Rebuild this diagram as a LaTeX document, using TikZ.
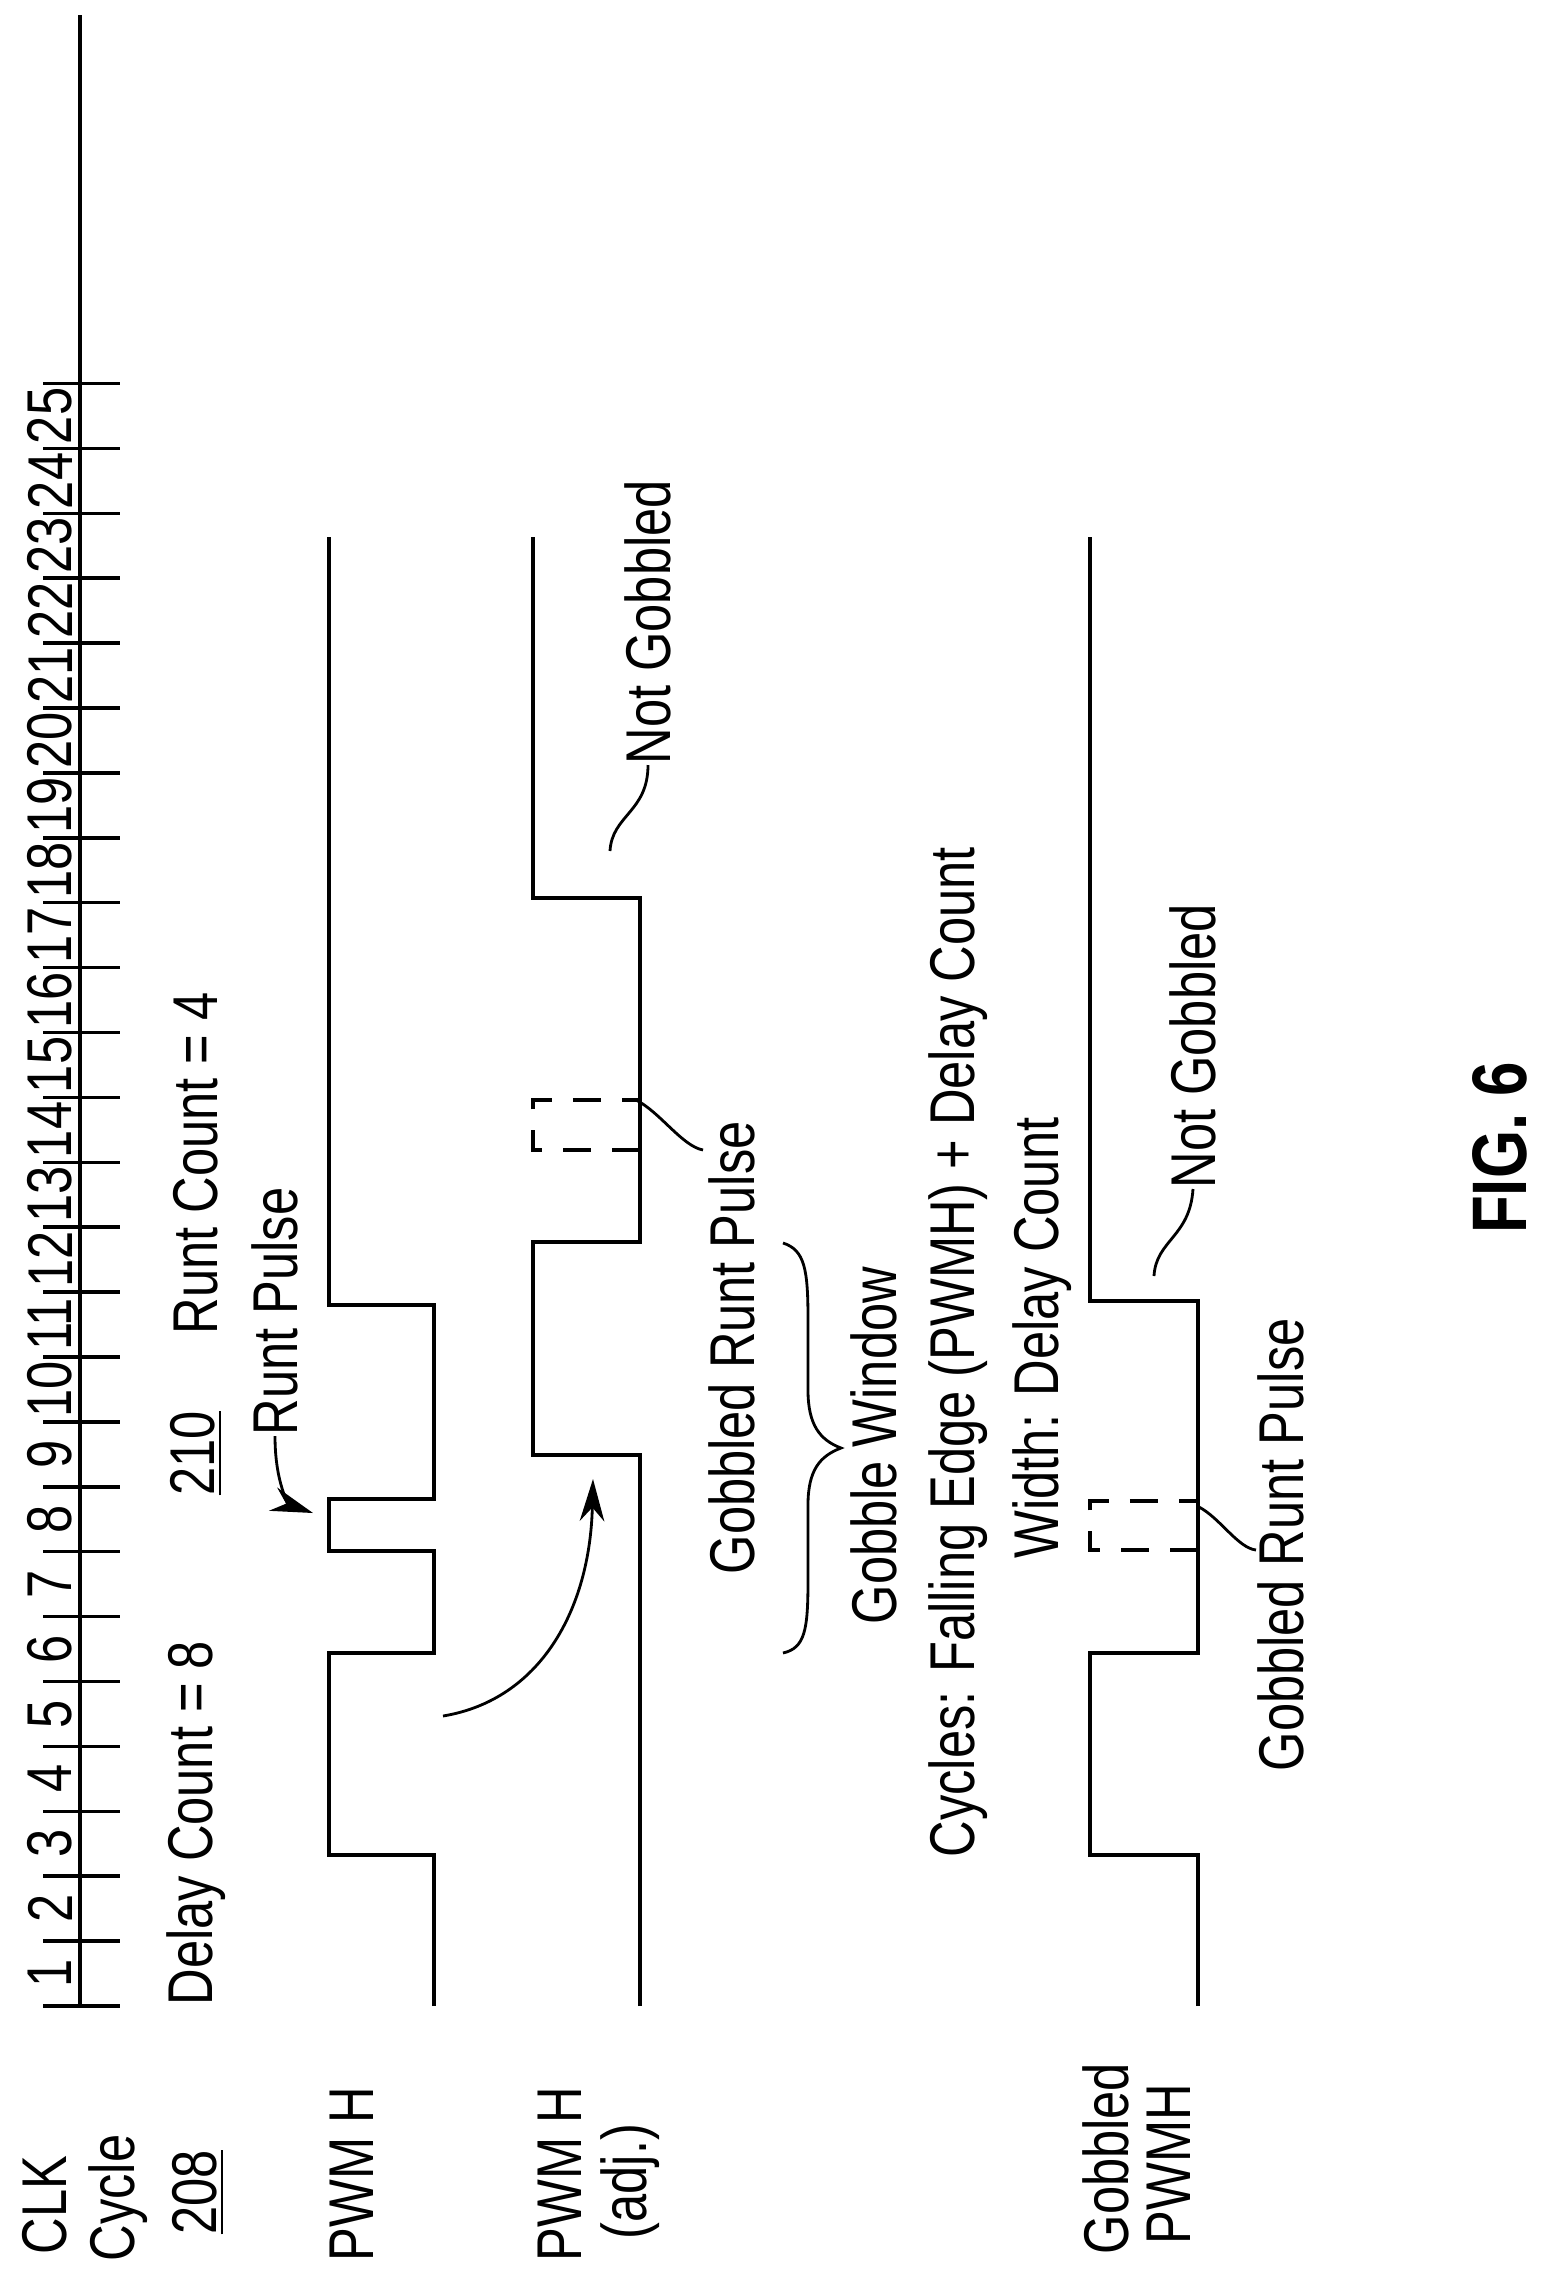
\documentclass[tikz,border=0pt]{standalone}
\usepackage{fontspec}
\setmainfont{Liberation Sans}[FakeStretch=0.8]
\usetikzlibrary{arrows.meta}
\begin{document}
\begin{tikzpicture}[x=0.1mm,y=-0.1mm,
  sig/.style={line width=1pt,line join=miter},
  ghost/.style={line width=1pt,dash pattern=on 8pt off 6pt},
  lead/.style={line width=0.8pt},
  lbl/.style={rotate=90,anchor=west,inner sep=0pt,font=\fontsize{18}{20}\selectfont},
  num/.style={rotate=90,anchor=center,inner sep=0pt,font=\fontsize{18}{20}\selectfont}]
\useasboundingbox (0,0) rectangle (1545,2277);
% left labels
\node[lbl] (clk) at (45,2255) {CLK};
\node[lbl] (cyc) at (118,2262) {Cycle};
\node[lbl] (r208) at (198,2235) {\underline{208}};
\node[lbl] (pwm) at (352,2262) {PWM H};
\node[lbl] (pwma) at (560,2262) {PWM H};
\node[lbl] (adj) at (630,2240) {(adj.)};
\node[lbl] (gob) at (1106,2255) {Gobbled};
\node[lbl] (gobp) at (1169,2245) {PWMH};
% clock
\draw[sig] (80,2006) -- (80,15);
\foreach \k in {0,...,25}{\draw[sig] (43,{2006-64.9*\k}) -- (120,{2006-64.9*\k});}
\foreach \n in {1,...,25}{\node[num] (c\n) at (50,{2006-64.9*(\n-0.5)}) {\n};}
% annotations
\node[lbl] (dc) at (196,2006) {Delay Count = 8};
\node[lbl] (r210) at (196,1496) {\underline{210}};
\node[lbl] (rc) at (196,1335) {Runt Count = 4};
\node[lbl] (rp) at (275,1436) {Runt Pulse};
\node[lbl] (gw) at (874,1625) {Gobble Window};
\node[lbl] (cy) at (958,1858) {Cycles: Falling Edge (PWMH) + Delay Count};
\node[lbl] (wd) at (1042,1559) {Width: Delay Count};
\node[lbl] (ng1) at (648,765) {Not Gobbled};
\node[lbl] (ng2) at (1193,1189) {Not Gobbled};
\node[lbl] (gr1) at (732,1575) {Gobbled Runt Pulse};
\node[lbl] (gr2) at (1281,1772) {Gobbled Runt Pulse};
\node[rotate=90,inner sep=0pt,font=\fontsize{22}{24}\selectfont\bfseries] (fig) at (1500,1148) {FIG. 6};
% PWM H
\draw[sig] (434,2006) -- (434,1855) -- (329,1855) -- (329,1653) -- (434,1653) -- (434,1551)
  -- (329,1551) -- (329,1499) -- (434,1499) -- (434,1305) -- (329,1305) -- (329,537);
% PWM H adj
\draw[sig] (640,2006) -- (640,1455) -- (533,1455) -- (533,1242) -- (640,1242) -- (640,898) -- (533,898) -- (533,537);
\draw[ghost] (640,1150) -- (533,1150) -- (533,1100) -- (640,1100);
% Gobbled PWMH
\draw[sig] (1198,2006) -- (1198,1855) -- (1090,1855) -- (1090,1653) -- (1198,1653) -- (1198,1301) -- (1090,1301) -- (1090,537);
\draw[ghost] (1198,1550) -- (1090,1550) -- (1090,1501) -- (1198,1501);
% arrows and leaders
\coordinate (a1) at (443,1716); \coordinate (a2) at (593,1479);
\draw[lead,-{Stealth[length=12pt,width=7pt]}] (a1) .. controls (540,1700) and (590,1610) .. (a2);
\coordinate (rp1) at (313,1513);
\draw[lead,-{Stealth[length=12pt,width=7pt]}] (rp.west) .. controls (275,1485) and (290,1505) .. (rp1);
\draw[lead] (610,851) .. controls (612,815) and (648,812) .. (ng1.west);
\draw[lead] (1154,1276) .. controls (1156,1240) and (1190,1237) .. (ng2.west);
\coordinate (g1a) at (636,1100); \coordinate (g1b) at (703,1150);
\coordinate (g2a) at (1199,1507); \coordinate (g2b) at (1256,1550);
\draw[lead] (g1a) .. controls (660,1112) and (682,1146) .. (g1b);
\draw[lead] (g2a) .. controls (1220,1518) and (1238,1548) .. (g2b);
% brace
\draw[lead] (783,1243) .. controls (805,1250) and (808,1270) .. (808,1320) -- (808,1390)
  .. controls (808,1425) and (820,1440) .. (841,1448)
  .. controls (820,1456) and (808,1470) .. (808,1505) -- (808,1580)
  .. controls (808,1630) and (805,1648) .. (783,1653);
\end{tikzpicture}
\end{document}
